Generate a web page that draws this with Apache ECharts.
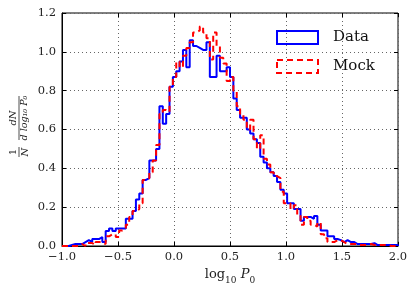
<!DOCTYPE html>
<html><head><meta charset="utf-8">
<script src="https://cdn.jsdelivr.net/npm/echarts@6/dist/echarts.min.js"></script>
<style>html,body{margin:0;padding:0;background:#fff}#c{width:413px;height:290px}</style>
</head><body><div id="c"></div>
<script>
const binStart = -1.0;
const binWidth = 0.03;
const xTicks = [-1.0, -0.5, 0.0, 0.5, 1.0, 1.5, 2.0];
const yTicks = [0.0, 0.2, 0.4, 0.6, 0.8, 1.0, 1.2];
const seriesNames = ['Data', 'Mock'];
const dataValues = [
 0,0,0.005,0.01,0.01,0.01,0.02,0.03,0.02,0.036,
 0.036,0.046,0.02,0.077,0.09,0.077,0.09,0.09,0.09,0.14,
 0.14,0.18,0.24,0.27,0.34,0.35,0.44,0.44,0.50,0.72,
 0.63,0.68,0.82,0.87,0.90,0.95,1.01,0.92,1.06,1.03,
 1.02,1.01,1.01,1.05,0.87,0.87,0.98,0.90,0.90,0.92,
 0.87,0.76,0.70,0.66,0.66,0.60,0.58,0.55,0.53,0.46,
 0.43,0.40,0.38,0.36,0.33,0.29,0.27,0.22,0.22,0.19,
 0.19,0.13,0.15,0.15,0.14,0.155,0.11,0.08,0.08,0.05,
 0.05,0.036,0.03,0.02,0.03,0.02,0.02,0.01,0.01,0.01,
 0.01,0.01,0.015,0.005,0.005,0.005,0.005,0.005,0.005,0.005
];
const mockValues = [
 0,0,0,0,0,0.01,0,0.015,0.015,0.005,
 0.02,0.02,0.01,0.05,0.06,0.06,0.046,0.08,0.09,0.11,
 0.15,0.18,0.19,0.22,0.34,0.35,0.38,0.44,0.52,0.68,
 0.70,0.69,0.82,0.87,0.95,0.92,0.98,1.02,1.05,1.10,
 1.11,1.13,1.10,1.07,0.96,1.10,1.03,0.97,0.94,0.85,
 0.87,0.80,0.72,0.68,0.65,0.60,0.65,0.55,0.50,0.57,
 0.45,0.42,0.38,0.36,0.35,0.28,0.22,0.22,0.19,0.21,
 0.16,0.11,0.15,0.13,0.11,0.10,0.12,0.06,0.04,0.02,
 0.02,0.03,0.03,0.02,0.01,0.01,0.01,0.01,0.005,0.005,
 0.005,0.01,0.005,0.005,0.005,0.005,0.005,0,0,0
];

function stepPoints(vals){
  const pts = [[binStart, 0]];
  vals.forEach((v,i)=>pts.push([binStart + i*binWidth, v]));
  const end = binStart + vals.length*binWidth;
  pts.push([end, vals[vals.length-1]]);
  pts.push([end, 0]);
  return pts;
}
const SERIF = '"DejaVu Serif", "Liberation Serif", serif';
const fmtMinus = v => (Math.abs(v) < 1e-9 ? 0 : v).toFixed(1).replace('-', '\u2212');
const chart = echarts.init(document.getElementById('c'), null, {renderer:'canvas'});
const gridLine = {show:true, lineStyle:{color:'#666', type:[1,3], width:1}};
chart.setOption({
  animation:false,
  backgroundColor:'#fff',
  grid:{left:62, right:15, top:13, bottom:42, show:true, borderColor:'#000', borderWidth:1, backgroundColor:'transparent'},
  legend:{
    orient:'vertical', left:271, top:25, itemGap:14, itemWidth:41, itemHeight:13,
    textStyle:{fontFamily:SERIF, fontSize:15, color:'#111', padding:[0,0,0,10]},
    data:[
      {name:seriesNames[0], icon:'rect', itemStyle:{color:'transparent', borderColor:'#0000ff', borderWidth:2}},
      {name:seriesNames[1], icon:'rect', itemStyle:{color:'transparent', borderColor:'#ff0000', borderWidth:2, borderType:[6,4]}}
    ]
  },
  xAxis:[{
    type:'value', min:xTicks[0], max:xTicks[xTicks.length-1], interval:0.5,
    axisLine:{show:true, onZero:false, lineStyle:{color:'#000'}},
    axisTick:{show:true, inside:true, length:4, lineStyle:{color:'#000'}},
    axisLabel:{fontFamily:SERIF, fontSize:11.5, color:'#222', margin:5, formatter:fmtMinus},
    splitLine:gridLine,
    name:'{n|log}{s|10}{n| }{i|P}{s|0}', nameLocation:'middle', nameGap:22,
    nameTextStyle:{rich:{
      n:{fontFamily:SERIF, fontSize:13, color:'#222', verticalAlign:'bottom'},
      i:{fontFamily:SERIF, fontSize:13, fontStyle:'italic', color:'#222', verticalAlign:'bottom'},
      s:{fontFamily:SERIF, fontSize:9, color:'#222', verticalAlign:'bottom', padding:[0,0,-4,0]}
    }}
  },{
    type:'value', position:'top', min:xTicks[0], max:xTicks[xTicks.length-1], interval:0.5,
    axisLine:{show:false, onZero:false}, axisTick:{show:true, inside:true, length:4, lineStyle:{color:'#000'}},
    axisLabel:{show:false}, splitLine:{show:false}
  }],
  yAxis:[{
    type:'value', min:yTicks[0], max:yTicks[yTicks.length-1], interval:0.2,
    axisLine:{show:true, onZero:false, lineStyle:{color:'#000'}},
    axisTick:{show:true, inside:true, length:4, lineStyle:{color:'#000'}},
    axisLabel:{fontFamily:SERIF, fontSize:11.5, color:'#222', margin:6, formatter:fmtMinus},
    splitLine:gridLine
  },{
    type:'value', position:'right', min:yTicks[0], max:yTicks[yTicks.length-1], interval:0.2,
    axisLine:{show:false, onZero:false}, axisTick:{show:true, inside:true, length:4, lineStyle:{color:'#000'}},
    axisLabel:{show:false}, splitLine:{show:false}
  }],
  graphic:[{
    type:'group', x:19, y:128, rotation:Math.PI/2,
    children:[
      {type:'text', style:{text:'1', x:-24, y:-6, align:'center', verticalAlign:'middle', font:'10px '+SERIF, fill:'#222'}},
      {type:'line', shape:{x1:-29, y1:0, x2:-19, y2:0}, style:{stroke:'#222', lineWidth:0.8}},
      {type:'text', style:{text:'N', x:-24, y:6, align:'center', verticalAlign:'middle', font:'italic 10px '+SERIF, fill:'#222'}},
      {type:'text', style:{text:'dN', x:10, y:-6, align:'center', verticalAlign:'middle', font:'italic 10px '+SERIF, fill:'#222'}},
      {type:'line', shape:{x1:-12, y1:0, x2:32, y2:0}, style:{stroke:'#222', lineWidth:0.8}},
      {type:'text', style:{text:'d log\u2081\u2080 P\u2080', x:10, y:6, align:'center', verticalAlign:'middle', font:'italic 9.5px '+SERIF, fill:'#222'}}
    ]
  }],
  series:[
    {name:seriesNames[0], type:'line', step:'end', data:stepPoints(dataValues), showSymbol:false, symbol:'none',
     lineStyle:{color:'#0000ff', width:2}, itemStyle:{color:'#0000ff'}, z:3},
    {name:seriesNames[1], type:'line', step:'end', data:stepPoints(mockValues), showSymbol:false, symbol:'none',
     lineStyle:{color:'#ff0000', width:2, type:[6,4]}, itemStyle:{color:'#ff0000'}, z:4}
  ]
});
</script></body></html>
